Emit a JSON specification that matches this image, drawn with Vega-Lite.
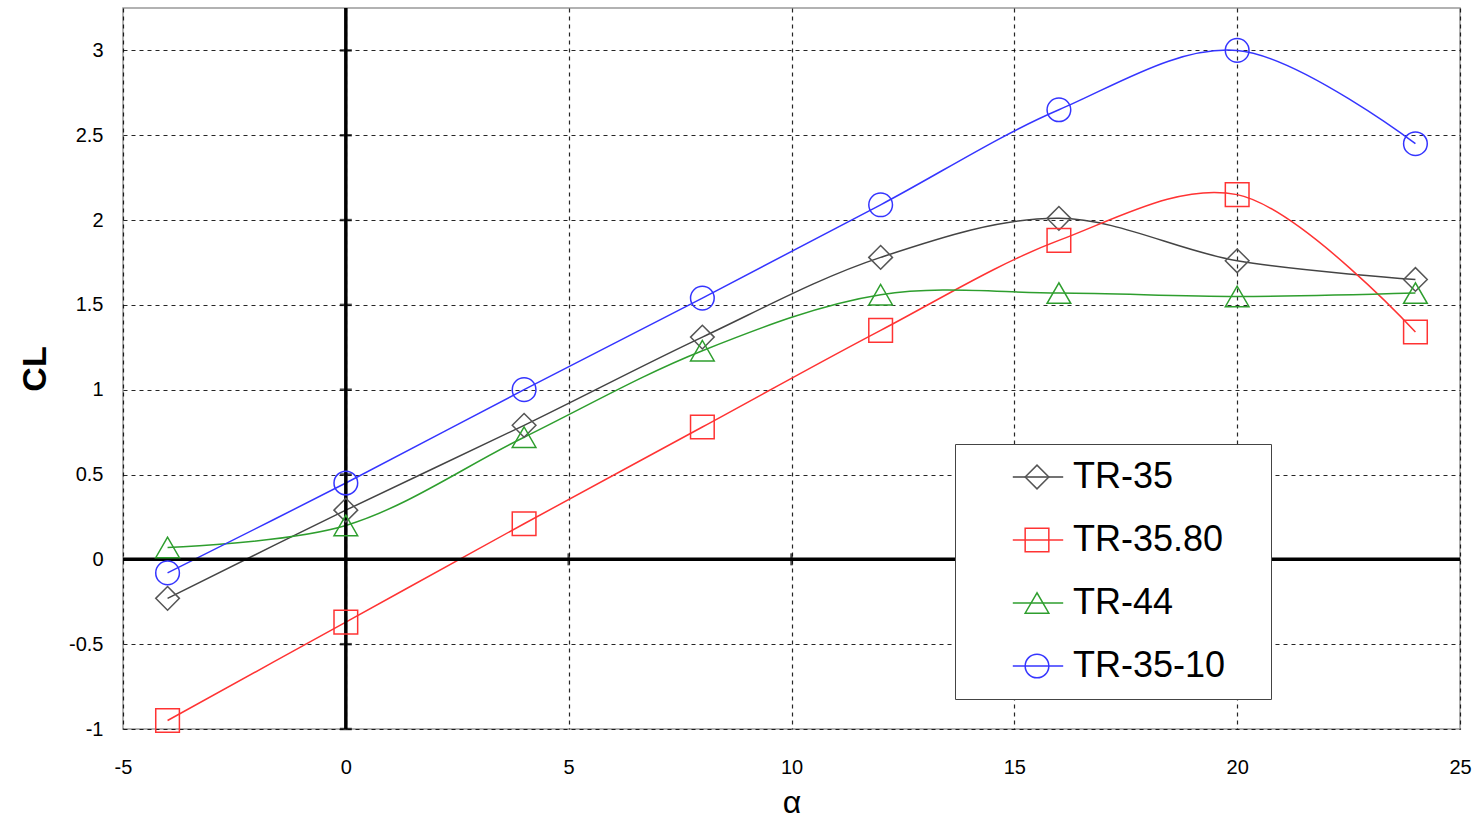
{
  "$schema": "https://vega.github.io/schema/vega-lite/v6.json",
  "width": 1337,
  "height": 721,
  "autosize": "none",
  "padding": {"left": 123, "top": 8, "right": 20, "bottom": 90},
  "background": "white",
  "config": {
    "font": "Liberation Sans",
    "view": {"stroke": "#999999", "strokeWidth": 1.5}
  },
  "datasets": {
    "cl": [
      {"series": "TR-35", "alpha": -4, "cl": -0.23},
      {"series": "TR-35", "alpha": 0, "cl": 0.29},
      {"series": "TR-35", "alpha": 4, "cl": 0.79},
      {"series": "TR-35", "alpha": 8, "cl": 1.31},
      {"series": "TR-35", "alpha": 12, "cl": 1.78},
      {"series": "TR-35", "alpha": 16, "cl": 2.01},
      {"series": "TR-35", "alpha": 20, "cl": 1.76},
      {"series": "TR-35", "alpha": 24, "cl": 1.65},
      {"series": "TR-35.80", "alpha": -4, "cl": -0.95},
      {"series": "TR-35.80", "alpha": 0, "cl": -0.37},
      {"series": "TR-35.80", "alpha": 4, "cl": 0.21},
      {"series": "TR-35.80", "alpha": 8, "cl": 0.78},
      {"series": "TR-35.80", "alpha": 12, "cl": 1.35},
      {"series": "TR-35.80", "alpha": 16, "cl": 1.88},
      {"series": "TR-35.80", "alpha": 20, "cl": 2.15},
      {"series": "TR-35.80", "alpha": 24, "cl": 1.34},
      {"series": "TR-44", "alpha": -4, "cl": 0.07},
      {"series": "TR-44", "alpha": 0, "cl": 0.2},
      {"series": "TR-44", "alpha": 4, "cl": 0.72},
      {"series": "TR-44", "alpha": 8, "cl": 1.23},
      {"series": "TR-44", "alpha": 12, "cl": 1.56},
      {"series": "TR-44", "alpha": 16, "cl": 1.57},
      {"series": "TR-44", "alpha": 20, "cl": 1.55},
      {"series": "TR-44", "alpha": 24, "cl": 1.57},
      {"series": "TR-35-10", "alpha": -4, "cl": -0.08},
      {"series": "TR-35-10", "alpha": 0, "cl": 0.45},
      {"series": "TR-35-10", "alpha": 4, "cl": 1.0},
      {"series": "TR-35-10", "alpha": 8, "cl": 1.54},
      {"series": "TR-35-10", "alpha": 12, "cl": 2.09},
      {"series": "TR-35-10", "alpha": 16, "cl": 2.65},
      {"series": "TR-35-10", "alpha": 20, "cl": 3.0},
      {"series": "TR-35-10", "alpha": 24, "cl": 2.45}
    ],
    "xticks": [{"a": 5, "b": 0}, {"a": 10, "b": 0}, {"a": 15, "b": 0}, {"a": 20, "b": 0}],
    "yticks": [{"a": 0, "b": -1}, {"a": 0, "b": -0.5}, {"a": 0, "b": 0.5}, {"a": 0, "b": 1}, {"a": 0, "b": 1.5}, {"a": 0, "b": 2}, {"a": 0, "b": 2.5}, {"a": 0, "b": 3}]
  },
  "layer": [
    {
      "data": {"name": "cl"},
      "mark": {"type": "line", "interpolate": "catmull-rom", "strokeWidth": 1.5},
      "encoding": {
        "x": {
          "field": "alpha", "type": "quantitative",
          "scale": {"domain": [-5, 25], "nice": false, "zero": false},
          "axis": {
            "values": [-5, 0, 5, 10, 15, 20, 25],
            "labelExpr": "replace(datum.label, '\u2212', '-')",
            "labelFlush": false,
            "title": "α",
            "grid": true, "gridDash": [4, 4], "gridColor": "#000000", "gridOpacity": 0.85, "gridWidth": 1.2,
            "domain": false, "ticks": false,
            "labelFontSize": 20, "labelPadding": 28, "labelColor": "#000000",
            "titleFontSize": 32, "titleFontWeight": "normal", "titlePadding": 10, "titleColor": "#000000"
          }
        },
        "y": {
          "field": "cl", "type": "quantitative",
          "scale": {"domain": [-1, 3.25], "nice": false, "zero": false},
          "axis": {
            "values": [-1, -0.5, 0, 0.5, 1, 1.5, 2, 2.5, 3],
            "format": "~g",
            "labelExpr": "replace(datum.label, '\u2212', '-')",
            "labelFlush": false,
            "title": "CL",
            "grid": true, "gridDash": [4, 4], "gridColor": "#000000", "gridOpacity": 0.85, "gridWidth": 1.2,
            "domain": false, "ticks": false,
            "labelFontSize": 20, "labelPadding": 20, "labelColor": "#000000",
            "titleFontSize": 34, "titleFontWeight": "bold", "titlePadding": 16, "titleColor": "#000000"
          }
        },
        "stroke": {
          "field": "series", "type": "nominal",
          "sort": ["TR-35", "TR-35.80", "TR-44", "TR-35-10"],
          "scale": {"range": ["#444444", "#ff3333", "#2e9e2e", "#3535ff"]},
          "legend": {
            "orient": "none", "legendX": 832, "legendY": 436,
            "title": null,
            "symbolType": "M-2.1,0H2.1", "symbolSize": 576, "symbolStrokeWidth": 1.5, "symbolOffset": 50,
            "labelFontSize": 36, "labelOffset": 200,
            "fillColor": "#ffffff", "strokeColor": "#444444",
            "padding": 15, "rowPadding": 27,
            "labelExpr": "'\u00a0'"
          }
        },
        "order": {"field": "alpha", "type": "quantitative"}
      }
    },
    {
      "data": {"values": [{"v": 0}]},
      "mark": {"type": "rule", "stroke": "#000000", "strokeWidth": 3.5},
      "encoding": {"x": {"field": "v", "type": "quantitative"}}
    },
    {
      "data": {"values": [{"v": 0}]},
      "mark": {"type": "rule", "stroke": "#000000", "strokeWidth": 3.5},
      "encoding": {"y": {"field": "v", "type": "quantitative"}}
    },
    {
      "data": {"name": "xticks"},
      "mark": {"type": "tick", "orient": "vertical", "color": "#000000", "thickness": 2.5, "size": 12},
      "encoding": {"x": {"field": "a", "type": "quantitative"}, "y": {"field": "b", "type": "quantitative"}}
    },
    {
      "data": {"name": "yticks"},
      "mark": {"type": "tick", "orient": "horizontal", "color": "#000000", "thickness": 2.5, "size": 12},
      "encoding": {"x": {"field": "a", "type": "quantitative"}, "y": {"field": "b", "type": "quantitative"}}
    },
    {
      "data": {"name": "cl"},
      "mark": {"type": "point", "filled": false, "strokeWidth": 1.5, "size": 560, "opacity": 1},
      "encoding": {
        "x": {"field": "alpha", "type": "quantitative"},
        "y": {"field": "cl", "type": "quantitative"},
        "color": {
          "field": "series", "type": "nominal",
          "scale": {"domain": ["TR-35", "TR-35.80", "TR-44", "TR-35-10"], "range": ["#555555", "#ff3333", "#2e9e2e", "#3535ff"]},
          "legend": {
            "orient": "none", "legendX": 832, "legendY": 436,
            "title": null,
            "labelFontSize": 36, "labelColor": "#000000", "labelOffset": 18,
            "symbolSize": 560, "symbolStrokeWidth": 1.5, "symbolOffset": 49, "symbolFillColor": "transparent",
            "padding": 15, "rowPadding": 27
          }
        },
        "shape": {
          "field": "series", "type": "nominal",
          "scale": {"domain": ["TR-35", "TR-35.80", "TR-44", "TR-35-10"], "range": ["diamond", "square", "triangle-up", "circle"]}
        }
      }
    }
  ]
}
